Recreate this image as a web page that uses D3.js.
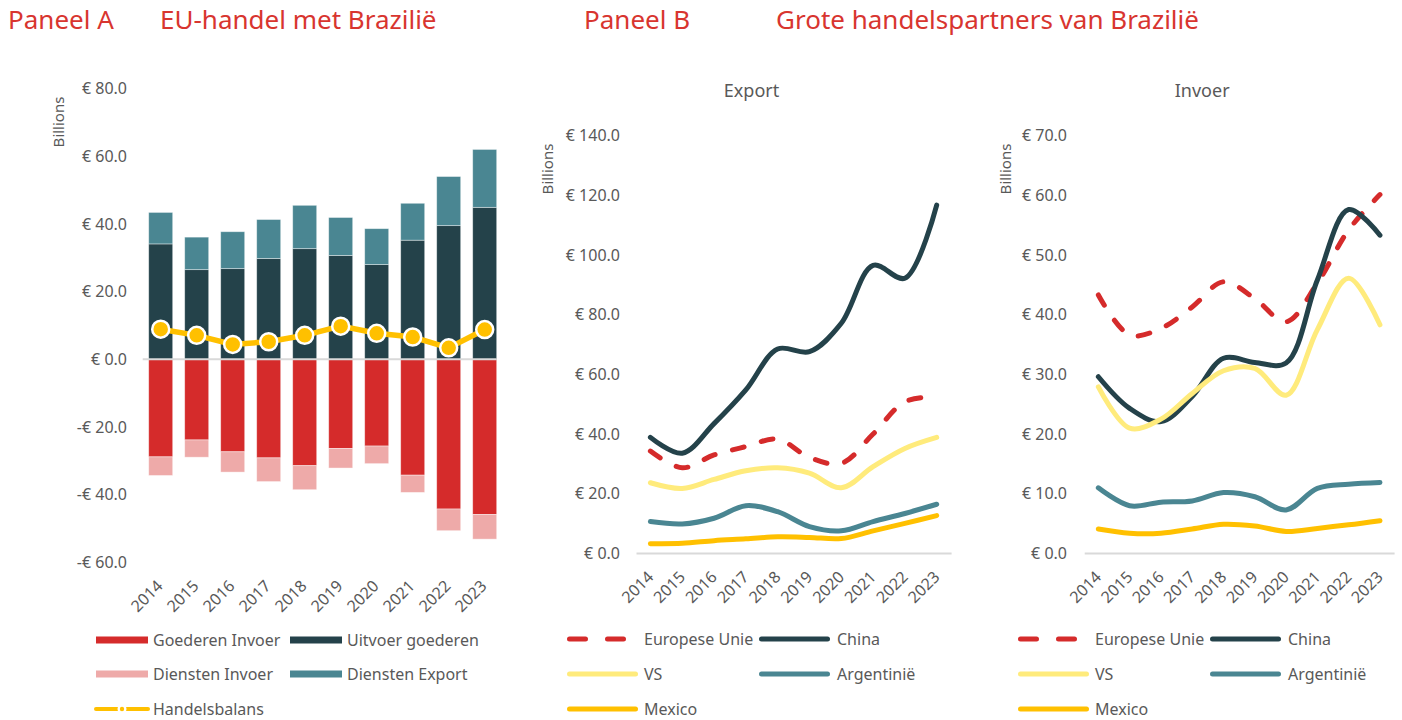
<!DOCTYPE html>
<html>
<head>
<meta charset="utf-8">
<script src="https://cdn.jsdelivr.net/npm/d3@7"></script>
<style>
  body { margin: 0; background: #fff; }
  svg text { font-family: "Noto Sans", sans-serif; }
</style>
</head>
<body>
<svg id="chart" width="1402" height="720"></svg>
<script>
// ---- data ----
const years = [2014, 2015, 2016, 2017, 2018, 2019, 2020, 2021, 2022, 2023]

// Paneel A (billions EUR)
const goodsImport    = [-28.8, -23.8, -27.3, -29.1, -31.4, -26.3, -25.6, -34.2, -44.2, -45.8]
const servicesImport = [-5.5, -5.1, -6.0, -7.0, -7.1, -5.8, -5.2, -5.1, -6.4, -7.3]
const goodsExport    = [34.1, 26.5, 26.8, 29.8, 32.7, 30.7, 28.0, 35.2, 39.5, 44.9]
const servicesExport = [9.3, 9.6, 10.9, 11.5, 12.8, 11.2, 10.6, 10.9, 14.5, 17.1]
const tradeBalance   = [8.9, 7.1, 4.4, 5.2, 7.1, 9.8, 7.7, 6.6, 3.4, 8.8]
const ticksA = [-60, -40, -20, 0, 20, 40, 60, 80]

// Paneel B - export
const euExport    = [34.3, 28.7, 33.0, 35.8, 38.3, 32.2, 30.2, 40.0, 50.8, 52.5]
const chinaExport = [38.9, 33.6, 43.5, 54.8, 68.5, 67.6, 77.1, 96.5, 92.2, 116.7]
const usExport    = [23.7, 21.8, 24.8, 27.7, 28.7, 26.9, 22.0, 29.1, 35.2, 38.9]
const argExport   = [10.7, 9.9, 11.8, 16.0, 14.0, 9.0, 7.6, 10.7, 13.4, 16.5]
const mexExport   = [3.3, 3.4, 4.3, 4.9, 5.6, 5.4, 5.0, 7.6, 10.1, 12.7]
const ticksExport = [0, 20, 40, 60, 80, 100, 120, 140]

// Paneel B - invoer
const euImport    = [43.3, 36.6, 37.7, 41.3, 45.5, 42.7, 38.8, 45.3, 54.2, 60.1]
const chinaImport = [29.6, 24.3, 22.1, 26.3, 32.7, 32.0, 31.9, 45.8, 57.6, 53.3]
const usImport    = [27.9, 21.0, 22.5, 26.8, 30.6, 31.0, 26.5, 37.5, 46.1, 38.3]
const argImport   = [11.0, 8.0, 8.6, 8.8, 10.2, 9.5, 7.3, 10.9, 11.6, 11.9]
const mexImport   = [4.1, 3.4, 3.4, 4.1, 4.9, 4.6, 3.7, 4.2, 4.8, 5.5]
const ticksImport = [0, 10, 20, 30, 40, 50, 60, 70]

const partnerNames = ["Europese Unie", "China", "VS", "Argentinië", "Mexico"]

// ---- styles ----
const red = "#d52b2b", pink = "#eeaaa9", dark = "#24424a", teal = "#4a8692"
const gold = "#ffc000", lightYellow = "#ffeb7c"
const textGrey = "#595959", titleRed = "#d8352f"
const partnerColors = [red, dark, lightYellow, teal, gold]
const fs = "16px"

const svg = d3.select("#chart")

const euro = v => (v < 0 ? "-€ " : "€ ") + Math.abs(v).toFixed(1)

// ---- titles ----
const titles = svg.append("g")
  .style("font-size", "26px")
  .style("fill", titleRed)
titles.append("text").attr("x", 8).attr("y", 29).text("Paneel A")
titles.append("text").attr("x", 160).attr("y", 29).text("EU-handel met Brazilië")
titles.append("text").attr("x", 584).attr("y", 29).text("Paneel B")
titles.append("text").attr("x", 776).attr("y", 29).text("Grote handelspartners van Brazilië")

// ---- Paneel A ----
let xA = d3.scaleBand()
  .domain(years)
  .range([142.7, 502.7])
  .paddingInner(1 / 3)
  .paddingOuter(1 / 6)

let yA = d3.scaleLinear()
  .domain([-60, 80])
  .range([562.5, 88.5])

let gA = svg.append("g")

gA.append("g")
  .attr("transform", "translate(127,0)")
  .call(d3.axisLeft(yA).tickValues(ticksA).tickSize(0).tickPadding(0).tickFormat(euro))
  .call(g => g.select(".domain").remove())
  .selectAll("text")
  .style("font-size", fs)
  .style("font-family", "Noto Sans")
  .style("fill", textGrey)

gA.append("text")
  .attr("transform", "translate(64,122) rotate(-90)")
  .attr("text-anchor", "middle")
  .style("font-size", "15px")
  .style("fill", textGrey)
  .text("Billions")

let stackRows = years.map((yr, i) => ({
  year: yr,
  segs: [
    { y0: 0, y1: goodsImport[i], c: red },
    { y0: goodsImport[i], y1: goodsImport[i] + servicesImport[i], c: pink },
    { y0: 0, y1: goodsExport[i], c: dark },
    { y0: goodsExport[i], y1: goodsExport[i] + servicesExport[i], c: teal }
  ]
}))

gA.append("g")
  .selectAll("g")
  .data(stackRows)
  .join("g")
  .selectAll("rect")
  .data(d => d.segs.map(s => ({ ...s, year: d.year })))
  .join("rect")
  .attr("x", d => xA(d.year))
  .attr("width", xA.bandwidth())
  .attr("y", d => yA(Math.max(d.y0, d.y1)))
  .attr("height", d => Math.abs(yA(d.y0) - yA(d.y1)))
  .attr("fill", d => d.c)
  .attr("stroke", "#ffffff")
  .attr("stroke-opacity", 0.5)
  .attr("stroke-width", 0.8)

gA.append("line")
  .attr("x1", xA.range()[0])
  .attr("x2", xA(2023) + xA.bandwidth())
  .attr("y1", yA(0))
  .attr("y2", yA(0))
  .style("stroke", "#d9d9d9")
  .style("stroke-width", "2px")

let balanceLine = d3.line()
  .x((d, i) => xA(years[i]) + xA.bandwidth() / 2)
  .y(d => yA(d))

gA.append("path")
  .attr("d", balanceLine(tradeBalance))
  .attr("fill", "none")
  .attr("stroke", gold)
  .attr("stroke-width", 5.5)

gA.selectAll(".bal")
  .data(tradeBalance)
  .join("circle")
  .attr("class", "bal")
  .attr("cx", (d, i) => xA(years[i]) + xA.bandwidth() / 2)
  .attr("cy", d => yA(d))
  .attr("r", 8.5)
  .attr("fill", gold)
  .attr("stroke", "#ffffff")
  .attr("stroke-width", 2.5)

gA.append("g")
  .selectAll("text")
  .data(years)
  .join("text")
  .attr("transform", d => `translate(${xA(d) + xA.bandwidth() / 2 + 3},587) rotate(-45)`)
  .attr("text-anchor", "end")
  .style("font-size", fs)
  .style("fill", textGrey)
  .text(d => d)

// legend A
let legendA = [
  { name: "Goederen Invoer", c: red, x: 96, y: 640 },
  { name: "Uitvoer goederen", c: dark, x: 290, y: 640 },
  { name: "Diensten Invoer", c: pink, x: 96, y: 674 },
  { name: "Diensten Export", c: teal, x: 290, y: 674 }
]
let lgA = svg.append("g")
lgA.selectAll("rect")
  .data(legendA)
  .join("rect")
  .attr("x", d => d.x)
  .attr("y", d => d.y - 3.5)
  .attr("width", 52)
  .attr("height", 7)
  .attr("fill", d => d.c)
lgA.selectAll("text")
  .data(legendA)
  .join("text")
  .attr("x", d => d.x + 57)
  .attr("y", d => d.y + 5.5)
  .style("font-size", fs)
  .style("fill", textGrey)
  .text(d => d.name)

lgA.append("line")
  .attr("x1", 96).attr("x2", 148).attr("y1", 709).attr("y2", 709)
  .attr("stroke", gold).attr("stroke-width", 4).attr("stroke-linecap", "round")
lgA.append("circle").attr("cx", 122).attr("cy", 709).attr("r", 4.5).attr("fill", "#fff")
lgA.append("circle").attr("cx", 122).attr("cy", 709).attr("r", 2.2).attr("fill", gold)
lgA.append("text")
  .attr("x", 153).attr("y", 714.5)
  .style("font-size", fs).style("fill", textGrey)
  .text("Handelsbalans")

// ---- Paneel B ----
function linePanel(opts) {
  let x = d3.scalePoint()
    .domain(years)
    .range(opts.xRange)
    .padding(0.5)

  let y = d3.scaleLinear()
    .domain([0, opts.ticks[opts.ticks.length - 1]])
    .range([553.5, 135.5])

  let g = svg.append("g")

  g.append("text")
    .attr("x", (opts.xRange[0] + opts.xRange[1]) / 2 - opts.titleShift)
    .attr("y", 97)
    .attr("text-anchor", "middle")
    .style("font-size", "18px")
    .style("fill", textGrey)
    .text(opts.title)

  g.append("g")
    .attr("transform", `translate(${opts.labelX},0)`)
    .call(d3.axisLeft(y).tickValues(opts.ticks).tickSize(0).tickPadding(0).tickFormat(euro))
    .call(s => s.select(".domain").remove())
    .selectAll("text")
    .style("font-size", fs)
    .style("font-family", "Noto Sans")
    .style("fill", textGrey)

  g.append("text")
    .attr("transform", `translate(${opts.billionsX},169) rotate(-90)`)
    .attr("text-anchor", "middle")
    .style("font-size", "15px")
    .style("fill", textGrey)
    .text("Billions")

  g.append("line")
    .attr("x1", opts.xRange[0] + 2)
    .attr("x2", opts.xRange[1] - 1)
    .attr("y1", y(0))
    .attr("y2", y(0))
    .style("stroke", "#d9d9d9")
    .style("stroke-width", "2px")

  let line = d3.line()
    .x((d, i) => x(years[i]))
    .y(d => y(d))
    .curve(d3.curveCatmullRom.alpha(0.5))

  g.append("g")
    .selectAll("path")
    .data(opts.series)
    .join("path")
    .attr("d", d => line(d))
    .attr("fill", "none")
    .attr("stroke", (d, i) => partnerColors[i])
    .attr("stroke-width", 5)
    .attr("stroke-linecap", "round")
    .attr("stroke-linejoin", "round")
    .attr("stroke-dasharray", (d, i) => i == 0 ? "12 18" : null)

  g.append("g")
    .selectAll("text")
    .data(years)
    .join("text")
    .attr("transform", d => `translate(${x(d) + 4},578) rotate(-45)`)
    .attr("text-anchor", "end")
    .style("font-size", fs)
    .style("fill", textGrey)
    .text(d => d)

  // legend
  let lx = opts.legendX
  let items = partnerNames.map((n, i) => ({
    name: n,
    c: partnerColors[i],
    x: i % 2 == 0 ? lx : lx + 192,
    y: [639, 639, 674, 674, 709][i],
    len: i == 0 ? 59 : 71
  }))
  let lg = g.append("g")
  lg.selectAll("line")
    .data(items)
    .join("line")
    .attr("x1", d => d.x + 2.5)
    .attr("x2", d => d.x + d.len - 2.5)
    .attr("y1", d => d.y)
    .attr("y2", d => d.y)
    .attr("stroke", d => d.c)
    .attr("stroke-width", 5)
    .attr("stroke-linecap", "round")
    .attr("stroke-dasharray", (d, i) => i == 0 ? "16 22" : null)
  lg.selectAll("text")
    .data(items)
    .join("text")
    .attr("x", (d, i) => d.x + (i % 2 == 0 ? 77 : 78))
    .attr("y", d => d.y + 5.5)
    .style("font-size", fs)
    .style("fill", textGrey)
    .text(d => d.name)
}

linePanel({
  title: "Export",
  xRange: [634.5, 952.6],
  ticks: ticksExport,
  labelX: 620,
  billionsX: 553,
  titleShift: 42,
  legendX: 567,
  series: [euExport, chinaExport, usExport, argExport, mexExport]
})

linePanel({
  title: "Invoer",
  xRange: [1082.7, 1395.6],
  ticks: ticksImport,
  labelX: 1067,
  billionsX: 1011,
  titleShift: 37,
  legendX: 1018,
  series: [euImport, chinaImport, usImport, argImport, mexImport]
})
</script>
</body>
</html>
